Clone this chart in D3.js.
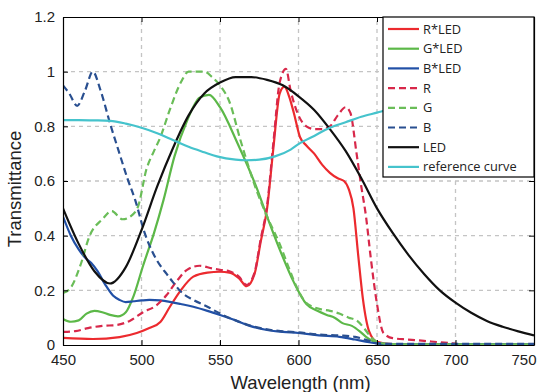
<!DOCTYPE html>
<html>
<head>
<meta charset="utf-8">
<script src="https://d3js.org/d3.v7.min.js"></script>
<style>
  body { margin: 0; background: #fff; }
  svg { display: block; }
</style>
</head>
<body>
<svg class="canvas"></svg>
<script>
/*
  transmittance spectra: colour filters times LED, plus reference curve
*/

var dwidth = 537;
var dheight = 392;
var pl = 63, pr = 534, pt = 17, pb = 345;

// tick labels
var xTicks = [450, 500, 550, 600, 650, 700, 750];
var yTicks = [0, 0.2, 0.4, 0.6, 0.8, 1, 1.2];

// series names (legend order = draw order)
var names = ["R*LED", "G*LED", "B*LED", "R", "G", "B", "LED", "reference curve"];

// R*LED
var rLedWl = [450,469,486,497,505,512,518,525,533,542,550,556,562,567,572,576,580,584,588,591,594,597,601,605,610,615,620,625,629,632,635,638,641,645,650,660,700,750];
var rLedT  = [0.026,0.022,0.029,0.044,0.062,0.084,0.139,0.2,0.25,0.265,0.268,0.265,0.245,0.215,0.26,0.38,0.5,0.72,0.92,0.945,0.91,0.85,0.76,0.73,0.7,0.66,0.63,0.61,0.6,0.57,0.5,0.33,0.17,0.05,0.012,0.003,0.002,0.002];
// G*LED
var gLedWl = [450,455,460,465,470,475,480,485,490,495,501,508,514,521,529,537,543,550,561,573,580,588,597,605,612,618,623,628,634,639,643,647,651,660,700,750];
var gLedT  = [0.095,0.085,0.09,0.115,0.125,0.12,0.11,0.105,0.12,0.18,0.29,0.41,0.53,0.69,0.82,0.905,0.915,0.87,0.74,0.58,0.47,0.35,0.23,0.15,0.125,0.11,0.1,0.08,0.07,0.05,0.03,0.015,0.005,0.002,0.002,0.002];
// B*LED
var bLedWl = [450,455,460,464,468,472,477,482,486,490,495,500,505,512,518,525,533,542,550,560,569,580,590,600,613,626,636,645,650,660,700,750];
var bLedT  = [0.47,0.4,0.35,0.32,0.3,0.27,0.22,0.18,0.165,0.157,0.16,0.163,0.165,0.163,0.158,0.15,0.14,0.125,0.11,0.09,0.07,0.055,0.048,0.044,0.035,0.03,0.02,0.01,0.006,0.003,0.002,0.002];
// R filter
var rWl = [450,458,466,475,484,493,501,509,516,522,529,537,545,550,556,562,567,572,576,580,584,588,592,595,600,605,610,615,620,625,630,633,637,640,643,646,650,654,660,670,680,690,700];
var rT  = [0.048,0.051,0.062,0.07,0.073,0.09,0.12,0.143,0.183,0.23,0.275,0.29,0.28,0.275,0.27,0.25,0.22,0.265,0.39,0.51,0.74,0.96,1.01,0.93,0.84,0.8,0.79,0.79,0.8,0.84,0.87,0.85,0.7,0.58,0.47,0.32,0.15,0.045,0.025,0.02,0.015,0.01,0.005];
// G filter
var gWl = [450,455,461,467,475,481,488,494,498,503,508,512,518,525,530,535,540,545,550,556,563,573,580,588,594,599,604,609,615,620,626,632,637,642,646,650,655,660,700,750];
var gT  = [0.19,0.21,0.29,0.4,0.46,0.49,0.46,0.475,0.51,0.64,0.71,0.76,0.86,0.96,1.0,1.0,1.0,0.98,0.95,0.89,0.75,0.57,0.47,0.37,0.28,0.21,0.16,0.14,0.13,0.125,0.115,0.1,0.09,0.06,0.03,0.012,0.005,0.003,0.002,0.002];
// B filter
var bWl = [450,454,459,464,469,474,480,486,491,496,502,507,512,516,520,526,533,542,550,560,570,580,590,600,613,626,636,645,650,660,680,700,750];
var bT  = [0.95,0.92,0.875,0.93,1.0,0.93,0.81,0.7,0.61,0.53,0.41,0.34,0.29,0.26,0.23,0.19,0.165,0.14,0.115,0.09,0.07,0.057,0.05,0.046,0.038,0.035,0.03,0.015,0.006,0.004,0.004,0.004,0.004];
// LED
var ledWl = [450,460,470,480,490,500,510,520,530,540,550,560,570,580,590,600,610,620,630,640,650,660,670,680,690,700,710,720,730,740,750];
var ledT  = [0.5,0.37,0.27,0.225,0.285,0.42,0.58,0.72,0.84,0.92,0.96,0.98,0.98,0.97,0.95,0.91,0.86,0.79,0.71,0.61,0.5,0.41,0.33,0.26,0.2,0.155,0.118,0.088,0.067,0.05,0.035];
// reference curve
var refWl = [450,460,470,480,490,500,510,520,530,540,548,560,567,575,585,595,600,610,620,630,640,650,660,680,700,750];
var refT  = [0.823,0.823,0.822,0.82,0.81,0.795,0.775,0.75,0.725,0.705,0.69,0.678,0.676,0.678,0.69,0.715,0.735,0.765,0.795,0.815,0.835,0.85,0.865,0.88,0.89,0.9];

var series = [
  {name: names[0], wl: rLedWl, t: rLedT, col: "#ec2a2e", dash: null},
  {name: names[1], wl: gLedWl, t: gLedT, col: "#5cb848", dash: null},
  {name: names[2], wl: bLedWl, t: bLedT, col: "#2150a6", dash: null},
  {name: names[3], wl: rWl, t: rT, col: "#d8284a", dash: "7,4"},
  {name: names[4], wl: gWl, t: gT, col: "#6abd58", dash: "7,4"},
  {name: names[5], wl: bWl, t: bT, col: "#294f90", dash: "7,4"},
  {name: names[6], wl: ledWl, t: ledT, col: "#111111", dash: null},
  {name: names[7], wl: refWl, t: refT, col: "#45c3cc", dash: null}
];

var canv = d3.select(".canvas").attr("width", dwidth).attr("height", dheight);

//Scales
var sx = d3.scaleLinear().domain([450, 750]).range([pl, pr]);
var sy = d3.scaleLinear().domain([0, 1.2]).range([pb, pt]);

canv.append("defs").append("clipPath").attr("id", "clip")
  .append("rect").attr("x", pl).attr("y", pt).attr("width", pr - pl).attr("height", pb - pt);

//Grid
var grid = canv.append("g").attr("stroke", "#c4c4c4").attr("stroke-width", 1.3).attr("stroke-dasharray", "4,4");
grid.selectAll(".gx").data(xTicks.slice(1, -1)).enter().append("line")
  .attr("x1", function(d) { return sx(d); }).attr("x2", function(d) { return sx(d); })
  .attr("y1", pb).attr("y2", pt);
grid.selectAll(".gy").data(yTicks.slice(1, -1)).enter().append("line")
  .attr("y1", function(d) { return sy(d); }).attr("y2", function(d) { return sy(d); })
  .attr("x1", pl).attr("x2", pr);

//Curves
var line = d3.line()
  .x(function(d) { return sx(d[0]); })
  .y(function(d) { return sy(d[1]); })
  .curve(d3.curveMonotoneX);

canv.append("g").attr("clip-path", "url(#clip)")
  .selectAll("path").data(series).enter().append("path")
  .attr("d", function(d) { return line(d.wl.map(function(w, i) { return [w, d.t[i]]; })); })
  .attr("fill", "none")
  .attr("stroke", function(d) { return d.col; })
  .attr("stroke-width", 2.2)
  .attr("stroke-dasharray", function(d) { return d.dash; })
  .attr("stroke-linejoin", "round");

//Axes (MATLAB box with inward ticks)
var fontTick = "'Liberation Sans', Arial, sans-serif";
var xb = canv.append("g").attr("transform", "translate(0," + pb + ")")
  .call(d3.axisBottom(sx).tickValues(xTicks).tickSizeInner(-5).tickSizeOuter(0).tickPadding(9));
var xt = canv.append("g").attr("transform", "translate(0," + pt + ")")
  .call(d3.axisTop(sx).tickValues(xTicks).tickSizeInner(-5).tickSizeOuter(0).tickFormat(""));
var yl = canv.append("g").attr("transform", "translate(" + pl + ",0)")
  .call(d3.axisLeft(sy).tickValues(yTicks).tickSizeInner(-5).tickSizeOuter(0).tickPadding(8)
    .tickFormat(function(d) { return d3.format("")(+d.toFixed(1)); }));
var yr = canv.append("g").attr("transform", "translate(" + pr + ",0)")
  .call(d3.axisRight(sy).tickValues(yTicks).tickSizeInner(-5).tickSizeOuter(0).tickFormat(""));

[xb, xt, yl, yr].forEach(function(a) {
  a.select(".domain").attr("stroke", "#000").attr("stroke-width", 1.2);
  a.selectAll(".tick line").attr("stroke", "#000").attr("stroke-width", 1);
  a.selectAll(".tick text").attr("font-family", fontTick).attr("font-size", 15).attr("fill", "#222");
});
// keep the last x label inside the window
xb.selectAll(".tick text").filter(function(d) { return d === 750; })
  .attr("text-anchor", "end").attr("x", dwidth - 1 - pr);

//Axis titles
canv.append("text")
  .attr("x", (pl + pr) / 2 + 2).attr("y", 389)
  .attr("text-anchor", "middle")
  .attr("font-family", fontTick).attr("font-size", 18.5).attr("fill", "#222")
  .text("Wavelength (nm)");
canv.append("text")
  .attr("transform", "translate(21," + ((pt + pb) / 2 + 8) + ") rotate(-90)")
  .attr("text-anchor", "middle")
  .attr("font-family", fontTick).attr("font-size", 18.5).attr("fill", "#222")
  .text("Transmittance");

//Legend
var lg = canv.append("g");
lg.append("rect")
  .attr("x", 383).attr("y", 17).attr("width", pr - 383).attr("height", 160)
  .attr("fill", "#fff").attr("stroke", "#000").attr("stroke-width", 1.2);
var items = lg.selectAll(".item").data(series).enter().append("g")
  .attr("transform", function(d, i) { return "translate(0," + (29 + i * 19.7) + ")"; });
items.append("line")
  .attr("x1", 388).attr("x2", 419).attr("y1", 0).attr("y2", 0)
  .attr("stroke", function(d) { return d.col; })
  .attr("stroke-width", 2.2)
  .attr("stroke-dasharray", function(d) { return d.dash; });
items.append("text")
  .attr("x", 423).attr("y", 4.5)
  .attr("font-family", "'Open Sans', sans-serif").attr("font-size", 12.8).attr("fill", "#222")
  .text(function(d) { return d.name; });
</script>
</body>
</html>
